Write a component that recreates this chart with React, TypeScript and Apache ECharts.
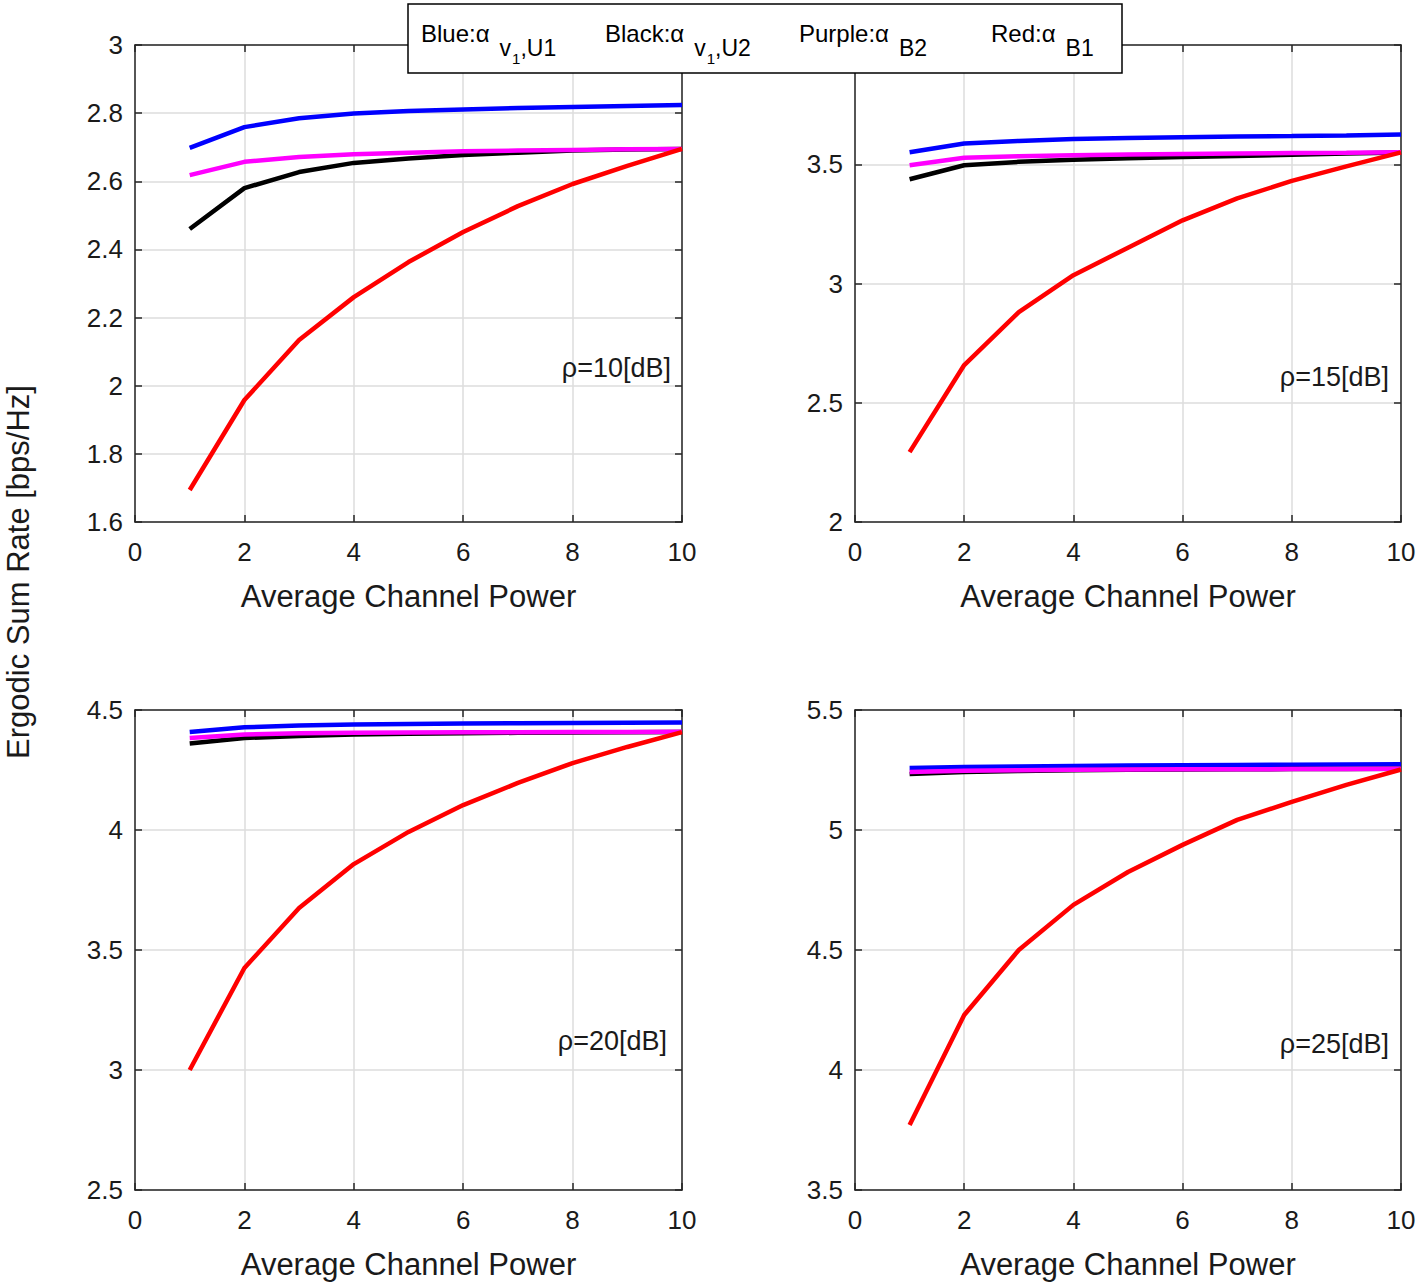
import React, { useEffect, useRef } from "react";
import * as echarts from "echarts";

const FONT = "'Liberation Sans', Arial, Helvetica, sans-serif";
const TXT = "#1a1a1a";

const powers = [1, 2, 3, 4, 5, 6, 7, 8, 9, 10];
const xTickMin = 0;
const xTickMax = 10;
const xTickStep = 2;

// rho = 10 dB
const blue10 = [2.698, 2.759, 2.785, 2.799, 2.806, 2.811, 2.815, 2.818, 2.821, 2.824];
const black10 = [2.46, 2.58, 2.627, 2.654, 2.667, 2.677, 2.684, 2.69, 2.693, 2.695];
const purple10 = [2.618, 2.657, 2.671, 2.679, 2.684, 2.688, 2.69, 2.692, 2.694, 2.695];
const red10 = [1.694, 1.958, 2.134, 2.26, 2.363, 2.451, 2.527, 2.592, 2.645, 2.695];
// rho = 15 dB
const blue15 = [3.55, 3.587, 3.598, 3.606, 3.61, 3.613, 3.616, 3.618, 3.621, 3.625];
const black15 = [3.437, 3.496, 3.51, 3.519, 3.525, 3.53, 3.535, 3.54, 3.545, 3.549];
const purple15 = [3.496, 3.527, 3.534, 3.538, 3.541, 3.543, 3.545, 3.547, 3.548, 3.55];
const red15 = [2.293, 2.658, 2.88, 3.035, 3.15, 3.265, 3.357, 3.43, 3.491, 3.55];
// rho = 20 dB
const blue20 = [4.408, 4.428, 4.435, 4.44, 4.442, 4.444, 4.445, 4.446, 4.447, 4.448];
const black20 = [4.36, 4.383, 4.392, 4.398, 4.401, 4.403, 4.405, 4.406, 4.407, 4.408];
const purple20 = [4.383, 4.398, 4.403, 4.405, 4.406, 4.407, 4.407, 4.408, 4.408, 4.409];
const red20 = [3.0, 3.425, 3.675, 3.858, 3.992, 4.104, 4.196, 4.279, 4.346, 4.408];
// rho = 25 dB
const blue25 = [5.258, 5.262, 5.265, 5.267, 5.269, 5.27, 5.271, 5.272, 5.273, 5.274];
const black25 = [5.233, 5.242, 5.246, 5.249, 5.251, 5.252, 5.253, 5.254, 5.254, 5.255];
const purple25 = [5.242, 5.247, 5.249, 5.251, 5.252, 5.253, 5.253, 5.254, 5.254, 5.255];
const red25 = [3.771, 4.229, 4.5, 4.688, 4.825, 4.938, 5.042, 5.117, 5.188, 5.252];

const yMins = [1.6, 2, 2.5, 3.5];
const yMaxs = [3, 4, 4.5, 5.5];
const ySteps = [0.2, 0.5, 0.5, 0.5];
// the top tick label of panel 2 lies under the legend box in the reference
const showTopLabel = [true, false, true, true];
const rhoLabels = ["ρ=10[dB]", "ρ=15[dB]", "ρ=20[dB]", "ρ=25[dB]"];
const xAxisTitle = "Average Channel Power";
const yAxisTitle = "Ergodic Sum Rate [bps/Hz]";

const seriesColors = ["#0000ff", "#000000", "#ff00ff", "#ff0000"];
const seriesNames = ["Blue", "Black", "Purple", "Red"];
const panelData = [
  [blue10, black10, purple10, red10],
  [blue15, black15, purple15, red15],
  [blue20, black20, purple20, red20],
  [blue25, black25, purple25, red25],
];

const legendMain = ["Blue:α", "Black:α", "Purple:α", "Red:α"];
const legendSubA = ["v", "v", "B2", "B1"];
const legendSubSub = ["1", "1", "", ""];
const legendSubB = [",U1", ",U2", "", ""];

// layout (pixels)
const grids = [
  { left: 135, top: 45, width: 547, height: 477 },
  { left: 855, top: 45, width: 546, height: 477 },
  { left: 135, top: 710, width: 547, height: 480 },
  { left: 855, top: 710, width: 546, height: 480 },
];
const rhoPos = [
  [671, 368],
  [1389, 377],
  [667, 1041],
  [1389, 1044],
];
const legendStarts = [421, 605, 799, 991];

export default function App() {
  const ref = useRef<HTMLDivElement>(null);
  useEffect(() => {
    if (!ref.current) return;
    const chart = echarts.init(ref.current, undefined, { renderer: "svg" });

    const canvas = document.createElement("canvas");
    const ctx = canvas.getContext("2d")!;
    const measure = (t: string, size: number) => {
      ctx.font = `${size}px ${FONT}`;
      return ctx.measureText(t).width;
    };

    const xAxes: any[] = [];
    const yAxes: any[] = [];
    const series: any[] = [];
    const lineCol = "#262626";

    grids.forEach((g, i) => {
      const common = {
        gridIndex: i,
        type: "value",
        axisLine: { show: true, onZero: false, lineStyle: { color: lineCol, width: 1.5 } },
        axisTick: { show: true, inside: true, length: 7, lineStyle: { color: lineCol, width: 1.5 } },
      };
      xAxes.push({
        ...common,
        position: "bottom",
        min: xTickMin,
        max: xTickMax,
        interval: xTickStep,
        name: xAxisTitle,
        nameLocation: "middle",
        nameGap: 59,
        nameTextStyle: { fontSize: 31, fontFamily: FONT, color: TXT },
        axisLabel: { fontSize: 26, fontFamily: FONT, color: TXT, margin: 17 },
        splitLine: { show: true, lineStyle: { color: "#dcdcdc", width: 1.5 } },
      });
      xAxes.push({
        ...common,
        position: "top",
        min: xTickMin,
        max: xTickMax,
        interval: xTickStep,
        axisLabel: { show: false },
        splitLine: { show: false },
      });
      yAxes.push({
        ...common,
        position: "left",
        min: yMins[i],
        max: yMaxs[i],
        interval: ySteps[i],
        axisLabel: {
          fontSize: 26,
          fontFamily: FONT,
          color: TXT,
          margin: 12,
          showMaxLabel: showTopLabel[i],
        },
        splitLine: { show: true, lineStyle: { color: "#dcdcdc", width: 1.5 } },
      });
      yAxes.push({
        ...common,
        position: "right",
        min: yMins[i],
        max: yMaxs[i],
        interval: ySteps[i],
        axisLabel: { show: false },
        splitLine: { show: false },
      });
      panelData[i].forEach((vals, k) => {
        series.push({
          type: "line",
          name: seriesNames[k] + i,
          xAxisIndex: 2 * i,
          yAxisIndex: 2 * i,
          data: powers.map((x, j) => [x, vals[j]]),
          showSymbol: false,
          symbol: "none",
          lineStyle: { color: seriesColors[k], width: 4.5 },
          z: 3 + k,
        });
      });
    });

    const graphics: any[] = [];
    rhoLabels.forEach((t, i) => {
      graphics.push({
        type: "text",
        x: rhoPos[i][0],
        y: rhoPos[i][1],
        z: 50,
        style: { text: t, fontSize: 27, fontFamily: FONT, fill: TXT, align: "right", verticalAlign: "middle" },
      });
    });
    graphics.push({
      type: "text",
      x: 18,
      y: 572,
      rotation: Math.PI / 2,
      style: { text: yAxisTitle, fontSize: 31, fontFamily: FONT, fill: TXT, align: "center", verticalAlign: "middle" },
    });
    graphics.push({
      type: "rect",
      z: 100,
      shape: { x: 408, y: 4, width: 714, height: 69 },
      style: { fill: "#ffffff", stroke: "#000000", lineWidth: 1.5 },
    });
    const mainSize = 24;
    const subSize = 23;
    const subSubSize = 15;
    legendMain.forEach((m, i) => {
      let x = legendStarts[i];
      const push = (t: string, size: number, y: number) => {
        if (!t) return;
        graphics.push({
          type: "text",
          z: 101,
          x,
          y,
          style: { text: t, fontSize: size, fontFamily: FONT, fill: "#000", align: "left", verticalAlign: "middle" },
        });
        x += measure(t, size);
      };
      push(m, mainSize, 33);
      x += 10;
      push(legendSubA[i], subSize, 48);
      if (legendSubSub[i]) {
        x += 1;
        push(legendSubSub[i], subSubSize, 58);
      }
      push(legendSubB[i], subSize, 48);
    });

    chart.setOption({
      animation: false,
      backgroundColor: "#ffffff",
      grid: grids.map((g) => ({ ...g, containLabel: false })),
      xAxis: xAxes,
      yAxis: yAxes,
      series,
      graphic: graphics,
    });
    return () => chart.dispose();
  }, []);
  return (
    <div
      ref={ref}
      style={{ position: "fixed", left: 0, top: 0, width: 1424, height: 1284, background: "#fff" }}
    />
  );
}
